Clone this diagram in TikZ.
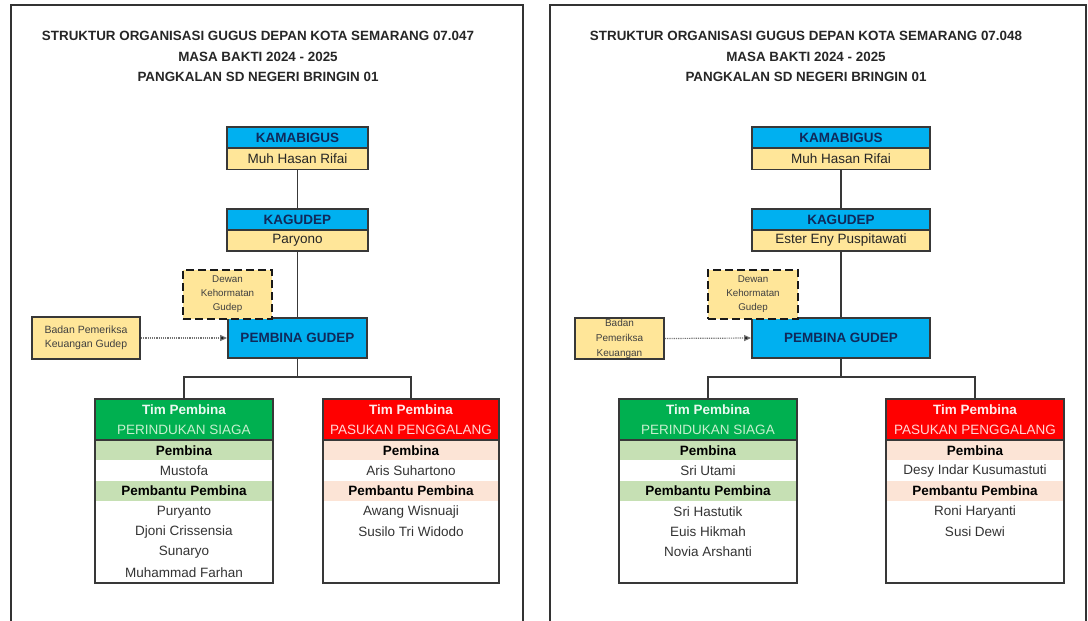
\documentclass[tikz,border=0pt]{standalone}
\usepackage{fontspec}
\setmainfont{Liberation Sans}
\usetikzlibrary{arrows.meta}
\definecolor{kepala}{HTML}{00B0F0}
\definecolor{krem}{HTML}{FFE699}
\definecolor{navy}{HTML}{10295A}
\definecolor{hijau}{HTML}{00B050}
\definecolor{hijaumuda}{HTML}{C6E0B4}
\definecolor{hijauteks}{HTML}{C6EFCE}
\definecolor{merah}{HTML}{FF0000}
\definecolor{merahmuda}{HTML}{FCE4D6}
\definecolor{merahteks}{HTML}{FFD6D6}
\definecolor{garis}{HTML}{383838}

\begin{document}
\begin{tikzpicture}[x=1pt, y=-1pt,
  judul/.style={align=center, inner sep=0pt, text=black!85, font=\fontsize{13.4}{20.5}\selectfont\bfseries},
  jabatan/.style={draw=garis, line width=1.8pt, fill=kepala, inner sep=0pt, minimum height=21pt, text=navy, font=\fontsize{13.5}{16}\selectfont\bfseries},
  namakrem/.style={draw=garis, line width=1.8pt, fill=krem, inner sep=0pt, minimum height=21pt, text=black!85, font=\fontsize{13.5}{16}\selectfont},
  dewan/.style={draw=black!90, line width=2.6pt, dash pattern=on 8pt off 4pt, fill=krem, inner sep=0pt, align=center, text=black!75, font=\fontsize{9.8}{14}\selectfont},
  badan/.style={draw=garis, line width=1.8pt, fill=krem, inner sep=0pt, align=center, text=black!75, font=\fontsize{10.5}{13.5}\selectfont},
  timkepala/.style={draw=garis, line width=1.8pt, inner sep=0pt, minimum height=41pt, align=center, font=\fontsize{13.5}{20}\selectfont},
  timbadan/.style={draw=garis, line width=1.8pt, inner sep=0pt, minimum height=143pt},
  isi/.style={inner sep=0pt, text=black!80, font=\fontsize{13.5}{16}\selectfont},
  isitebal/.style={isi, text=black, font=\fontsize{13.5}{16}\selectfont\bfseries},
  hubung/.style={draw=garis, line width=1.6pt},
  panah/.style={draw=black!55, line width=1.2pt, densely dotted, -{Triangle[length=7pt, width=6pt, fill=black]}}
]
\useasboundingbox (0,0) rectangle (1088,621);

%Bingkai
\draw[line width=2.6pt, draw=black!80] (11,621) -- (11,5) -- (523,5) -- (523,621);
\draw[line width=2.6pt, draw=black!80] (550,621) -- (550,5) -- (1086,5) -- (1086,621);

%Gudep 07.047
\node[judul] (judul1) at (258,56.5) {STRUKTUR ORGANISASI GUGUS DEPAN KOTA SEMARANG 07.047\\MASA BAKTI 2024 - 2025\\PANGKALAN SD NEGERI BRINGIN 01};
\node[jabatan, minimum width=141pt] (kama1) at (297.5,137.5) {KAMABIGUS};
\node[namakrem, minimum width=141pt] (kaman1) at (297.5,159) {Muh Hasan Rifai};
\node[jabatan, minimum width=141pt] (kagu1) at (297.5,219.5) {KAGUDEP};
\node[namakrem, minimum width=141pt] (kagun1) at (297.5,240.5) {Paryono};
\node[jabatan, minimum width=139pt, minimum height=40pt] (pg1) at (297.5,338) {PEMBINA GUDEP};
\node[dewan, minimum width=89pt, minimum height=49pt] (dkg1) at (227.5,294.5) {Dewan\\Kehormatan\\Gudep};
\node[badan, minimum width=108pt, minimum height=42pt] (bpk1) at (86,338) {Badan Pemeriksa\\Keuangan Gudep};
\draw[hubung] (kaman1.south) -- (kagu1.north);
\draw[hubung] (kagun1.south) -- (pg1.north);
\draw[panah] (bpk1.east) -- (pg1.west);

\node[timkepala, fill=hijau, minimum width=178pt] (sg1) at (184,419.5) {{\bfseries\color{white!92!hijau}Tim Pembina}\\{\color{hijauteks}PERINDUKAN SIAGA}};
\fill[hijaumuda] (95,441) rectangle (273,460);
\fill[hijaumuda] (95,481) rectangle (273,501);
\node[timbadan, minimum width=178pt] (sgb1) at (184,511.5) {};
\node[isitebal] (sgp1) at (184,451) {Pembina};
\node[isi] (sgn1) at (184,471) {Mustofa};
\node[isitebal] (sgpp1) at (184,491) {Pembantu Pembina};
\node[isi] (sga1) at (184,512) {Puryanto};
\node[isi] (sgb1x) at (184,532) {Djoni Crissensia};
\node[isi] (sgc1) at (184,552) {Sunaryo};
\node[isi] (sgd1) at (184,573) {Muhammad Farhan};

\node[timkepala, fill=merah, minimum width=176pt] (pn1) at (411,419.5) {{\bfseries\color{white!92!merah}Tim Pembina}\\{\color{merahteks}PASUKAN PENGGALANG}};
\fill[merahmuda] (323,441) rectangle (499,460);
\fill[merahmuda] (323,481) rectangle (499,501);
\node[timbadan, minimum width=176pt] (pnb1) at (411,511.5) {};
\node[isitebal] (pnp1) at (411,451) {Pembina};
\node[isi] (pnn1) at (411,471) {Aris Suhartono};
\node[isitebal] (pnpp1) at (411,491) {Pembantu Pembina};
\node[isi] (pna1) at (411,512) {Awang Wisnuaji};
\node[isi] (pnb1x) at (411,532) {Susilo Tri Widodo};

\coordinate (simpul1) at (297.5,377);
\draw[hubung] (pg1.south) -- (simpul1);
\draw[hubung] (sg1.north) |- (simpul1) -| (pn1.north);

%Gudep 07.048
\node[judul] (judul2) at (806,56.5) {STRUKTUR ORGANISASI GUGUS DEPAN KOTA SEMARANG 07.048\\MASA BAKTI 2024 - 2025\\PANGKALAN SD NEGERI BRINGIN 01};
\node[jabatan, minimum width=178pt] (kama2) at (841,137.5) {KAMABIGUS};
\node[namakrem, minimum width=178pt] (kaman2) at (841,159) {Muh Hasan Rifai};
\node[jabatan, minimum width=178pt] (kagu2) at (841,219.5) {KAGUDEP};
\node[namakrem, minimum width=178pt] (kagun2) at (841,240.5) {Ester Eny Puspitawati};
\node[jabatan, minimum width=178pt, minimum height=40pt] (pg2) at (841,338) {PEMBINA GUDEP};
\node[dewan, minimum width=90pt, minimum height=49pt] (dkg2) at (753,294.5) {Dewan\\Kehormatan\\Gudep};
\node[badan, minimum width=89pt, minimum height=41pt, font=\fontsize{10}{15}\selectfont] (bpk2) at (619.5,338.5) {Badan\\Pemeriksa\\Keuangan};
\draw[hubung] (kaman2.south) -- (kagu2.north);
\draw[hubung] (kagun2.south) -- (pg2.north);
\draw[panah] (bpk2.east) -- (pg2.west);

\node[timkepala, fill=hijau, minimum width=178pt] (sg2) at (708,419.5) {{\bfseries\color{white!92!hijau}Tim Pembina}\\{\color{hijauteks}PERINDUKAN SIAGA}};
\fill[hijaumuda] (619,441) rectangle (797,460);
\fill[hijaumuda] (619,481) rectangle (797,501);
\node[timbadan, minimum width=178pt] (sgb2) at (708,511.5) {};
\node[isitebal] (sgp2) at (708,451) {Pembina};
\node[isi] (sgn2) at (708,471) {Sri Utami};
\node[isitebal] (sgpp2) at (708,491) {Pembantu Pembina};
\node[isi] (sga2) at (708,512) {Sri Hastutik};
\node[isi] (sgb2x) at (708,532) {Euis Hikmah};
\node[isi] (sgc2) at (708,552) {Novia Arshanti};

\node[timkepala, fill=merah, minimum width=178pt] (pn2) at (975,419.5) {{\bfseries\color{white!92!merah}Tim Pembina}\\{\color{merahteks}PASUKAN PENGGALANG}};
\fill[merahmuda] (886,441) rectangle (1064,460);
\fill[merahmuda] (886,481) rectangle (1064,501);
\node[timbadan, minimum width=178pt] (pnb2) at (975,511.5) {};
\node[isitebal] (pnp2) at (975,451) {Pembina};
\node[isi] (pnn2) at (975,471) {Desy Indar Kusumastuti};
\node[isitebal] (pnpp2) at (975,491) {Pembantu Pembina};
\node[isi] (pna2) at (975,512) {Roni Haryanti};
\node[isi] (pnb2x) at (975,532) {Susi Dewi};

\coordinate (simpul2) at (841,377);
\draw[hubung] (pg2.south) -- (simpul2);
\draw[hubung] (sg2.north) |- (simpul2) -| (pn2.north);
\end{tikzpicture}
\end{document}
